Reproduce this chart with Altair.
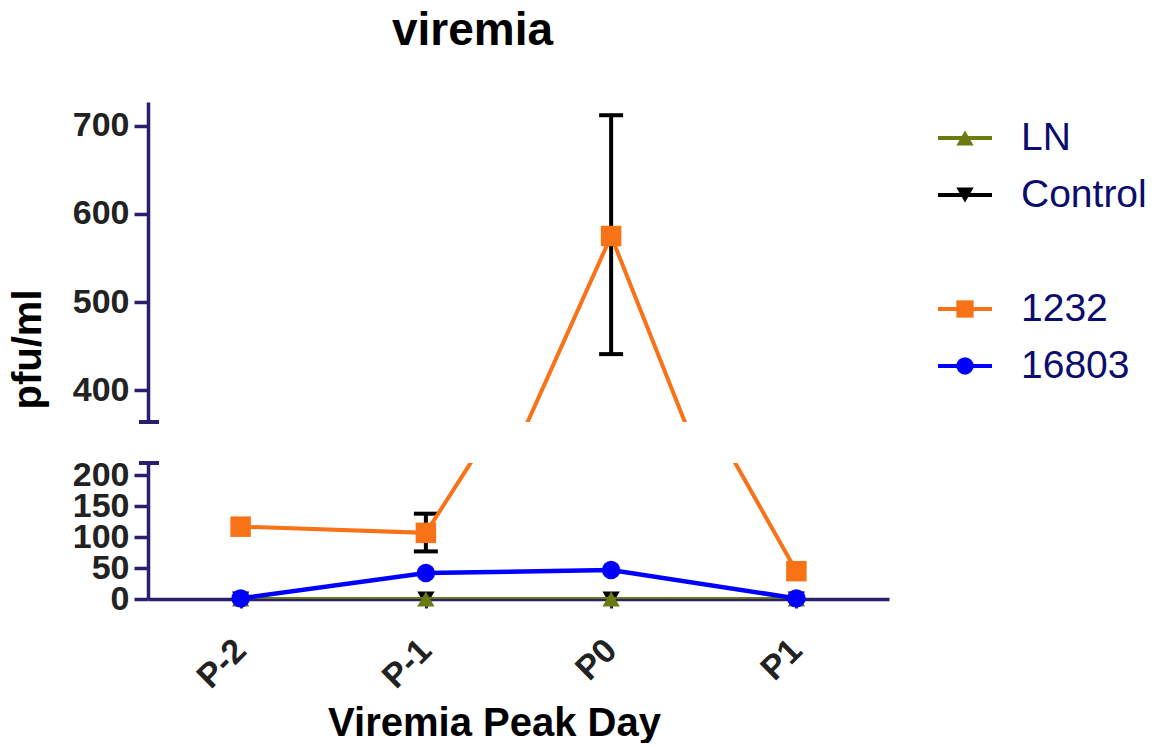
import altair as alt
import pandas as pd

# ---- data ----
days = ["P-2", "P-1", "P0", "P1"]
series_names = ["LN", "Control", "1232", "16803"]
ln_values = [0, 0, 0, 0]
control_values = [0, 0, 0, 0]
s1232_values = [117, 107, 575, 45]
s16803_values = [1, 42, 47, 1]
err_days = ["P-1", "P0"]
err_low = [77, 441]
err_high = [138, 712]

top_ticks = [400, 500, 600, 700]
bottom_ticks = [0, 50, 100, 150, 200]
top_domain = [364, 727]
bottom_domain = [0, 220]

# ---- styles ----
FONT = "Liberation Sans"
NAVY = "#2a1f6e"
LEG_TEXT = "#0c0c6e"
colors = {"LN": "#6b7b12", "Control": "#000000", "1232": "#f87217", "16803": "#0000ff"}
shapes = {"LN": "triangle-up", "Control": "triangle-down", "1232": "square", "16803": "circle"}
sizes = {"LN": 300, "Control": 300, "1232": 420, "16803": 340}
widths = {"LN": 4, "Control": 4, "1232": 4, "16803": 4.5}

values = {"LN": ln_values, "Control": control_values, "1232": s1232_values, "16803": s16803_values}
frames = {s: pd.DataFrame({"day": days, "value": values[s], "series": s}) for s in series_names}
err_df = pd.DataFrame({"day": err_days, "low": err_low, "high": err_high})

PLOT_W = 741
TOP_H = 320
BOT_H = 136


def xenc(show_axis):
    if show_axis:
        ax = alt.Axis(
            values=days, labelAngle=-45, labelAlign="right", labelBaseline="middle",
            labelFont=FONT, labelFontSize=34, labelFontWeight="bold",
            labelColor="#222222", labelPadding=37,
            domainColor=NAVY, domainWidth=3.5, tickColor=NAVY, tickWidth=3,
            tickSize=9, title="Viremia Peak Day", titleFont=FONT,
            titleFontSize=40, titleFontWeight="bold", titleColor="#000000",
            titleX=346, titleY=136, titleAlign="center", titleBaseline="alphabetic",
            grid=False,
        )
    else:
        ax = None
    return alt.X("day:N", scale=alt.Scale(domain=days, type="point", padding=0.5),
                 axis=ax, sort=days)


def yaxis(ticks, title):
    kw = dict(
        values=ticks, tickCount=20, labelFont=FONT, labelFontSize=34, labelFontWeight="bold",
        labelColor="#222222", labelPadding=5, labelOverlap=False,
        domainColor=NAVY, domainWidth=3.5, tickColor=NAVY, tickWidth=3.5,
        tickSize=14, grid=False,
    )
    if title:
        kw.update(title=title, titleFont=FONT, titleFontSize=40,
                  titleFontWeight="bold", titleColor="#000000", titleY=247,
                  titleX=-100, titleAlign="center", titleBaseline="bottom")
    else:
        kw.update(title=None)
    return alt.Axis(**kw)


def panel(domain, ticks, height, show_x, title):
    is_top = title is not None
    lo, hi = domain
    in_range = (alt.datum.value >= lo) & (alt.datum.value <= hi)
    x = xenc(show_x)
    yscale = alt.Scale(domain=domain, nice=False, zero=False)
    y = alt.Y("value:Q", scale=yscale, axis=yaxis(ticks, title))
    layers = []
    for s in ["Control", "LN"]:
        base = alt.Chart(frames[s])
        layers.append(base.mark_line(color=colors[s], strokeWidth=widths[s], clip=True).encode(x=x, y=y))
        layers.append(base.mark_point(color=colors[s], shape=shapes[s], filled=True, opacity=1,
                                      size=sizes[s]).encode(x=x, y=y).transform_filter(in_range))
    eb = alt.Chart(err_df)
    layers.append(eb.mark_rule(color="black", strokeWidth=4, clip=True).encode(
        x=x, y=alt.Y("low:Q", scale=yscale), y2="high:Q"))
    layers.append(eb.mark_tick(color="black", thickness=4, size=24, opacity=1).encode(
        x=x, y=alt.Y("low:Q", scale=yscale)).transform_filter(
        (alt.datum.low >= lo) & (alt.datum.low <= hi)))
    layers.append(eb.mark_tick(color="black", thickness=4, size=24, opacity=1).encode(
        x=x, y=alt.Y("high:Q", scale=yscale)).transform_filter(
        (alt.datum.high >= lo) & (alt.datum.high <= hi)))
    for s in ["1232", "16803"]:
        base = alt.Chart(frames[s])
        layers.append(base.mark_line(color=colors[s], strokeWidth=widths[s], clip=True).encode(x=x, y=y))
        layers.append(base.mark_point(color=colors[s], shape=shapes[s], filled=True, opacity=1,
                                      size=sizes[s]).encode(x=x, y=y).transform_filter(in_range))
    # axis-break caps
    cap_y = height if is_top else 0
    layers.append(alt.Chart(frames["LN"]).mark_rule(color=NAVY, strokeWidth=3.5).encode(
        x=alt.value(-9), x2=alt.value(11), y=alt.value(cap_y)))
    return alt.layer(*layers).properties(width=PLOT_W, height=height)


top = panel(top_domain, top_ticks, TOP_H, False, "pfu/ml")
bottom = panel(bottom_domain, bottom_ticks, BOT_H, True, None)
plots = alt.vconcat(top, bottom, spacing=34)

# ---- custom legend ----
legend_order = ["LN", "Control", " ", "1232", "16803"]
leg_df = pd.DataFrame({"label": series_names})
ly = alt.Y("label:N", scale=alt.Scale(domain=legend_order, type="point", padding=0.632), axis=None)
cscale = alt.Scale(domain=series_names, range=[colors[s] for s in series_names])
sscale = alt.Scale(domain=series_names, range=[shapes[s] for s in series_names])
zscale = alt.Scale(domain=series_names, range=[300, 300, 440, 340])
leg = alt.layer(
    alt.Chart(leg_df).mark_rule(strokeWidth=4).encode(
        x=alt.value(9), x2=alt.value(63), y=ly,
        color=alt.Color("label:N", scale=cscale, legend=None)),
    alt.Chart(leg_df).mark_point(filled=True, opacity=1).encode(
        x=alt.value(36), y=ly,
        color=alt.Color("label:N", scale=cscale, legend=None),
        shape=alt.Shape("label:N", scale=sscale, legend=None),
        size=alt.Size("label:N", scale=zscale, legend=None)),
    alt.Chart(leg_df).mark_text(align="left", baseline="middle", font=FONT,
                                fontSize=39, color=LEG_TEXT).encode(
        x=alt.value(92), y=ly, text="label:N"),
).properties(width=200, height=300)

chart = alt.hconcat(plots, leg, spacing=40).properties(
    title=alt.TitleParams("viremia", font=FONT, fontSize=46, fontWeight="bold",
                          color="#000000", anchor="start", dx=384, offset=47),
    padding={"left": 0, "top": 0, "right": 0, "bottom": 0},
).resolve_scale(color="independent", shape="independent", size="independent").configure_view(
    stroke=None
)

chart.save("out.html", embed_options={"renderer": "svg", "actions": False})
